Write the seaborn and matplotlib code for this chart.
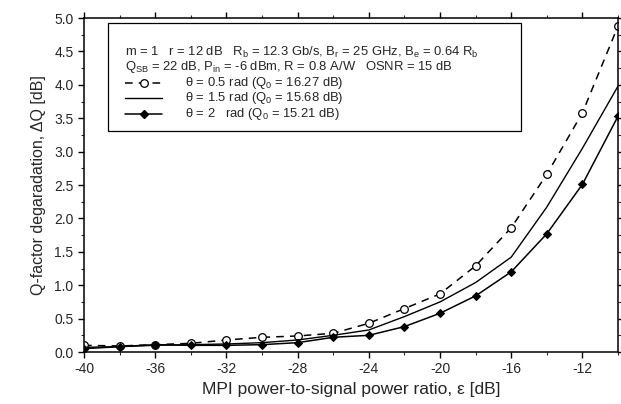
import numpy as np
import pandas as pd
import matplotlib
matplotlib.use("Agg")
import matplotlib.pyplot as plt
from matplotlib.patches import Rectangle
from matplotlib.ticker import MultipleLocator, FormatStrFormatter
import seaborn as sns

# MPI power-to-signal power ratio (dB)
eps_db = [-40, -38, -36, -34, -32, -30, -28, -26, -24, -22, -20, -18, -16, -14, -12, -10]

# Q-factor degradation (dB) for each phase value
dq_theta_05 = [0.10, 0.09, 0.11, 0.13, 0.18, 0.22, 0.24, 0.28, 0.43, 0.65, 0.87, 1.29, 1.86, 2.66, 3.58, 4.88]
dq_theta_15 = [0.07, 0.08, 0.10, 0.11, 0.12, 0.14, 0.18, 0.25, 0.33, 0.53, 0.75, 1.04, 1.42, 2.17, 3.05, 3.98]
dq_theta_20 = [0.05, 0.08, 0.11, 0.10, 0.10, 0.11, 0.14, 0.22, 0.25, 0.38, 0.58, 0.84, 1.20, 1.77, 2.51, 3.53]

series_labels = [
    r"$\theta$ = 0.5 rad (Q$_0$ = 16.27 dB)",
    r"$\theta$ = 1.5 rad (Q$_0$ = 15.68 dB)",
    r"$\theta$ = 2   rad (Q$_0$ = 15.21 dB)",
]
header_lines = [
    "m = 1   r = 12 dB   R$_b$ = 12.3 Gb/s, B$_r$ = 25 GHz, B$_e$ = 0.64 R$_b$",
    "Q$_{SB}$ = 22 dB, P$_{in}$ = -6 dBm, R = 0.8 A/W   OSNR = 15 dB",
]

sns.set_style("ticks")
plt.rcParams["font.family"] = ["Liberation Sans", "DejaVu Sans"]
plt.rcParams["mathtext.default"] = "regular"
plt.rcParams["axes.unicode_minus"] = False

df = pd.DataFrame({"eps": eps_db, "t05": dq_theta_05, "t15": dq_theta_15, "t20": dq_theta_20})

fig = plt.figure(figsize=(6.21, 4.04), dpi=100)
ax = fig.add_axes([0.1353, 0.1287, 0.8599, 0.8267])

dash = (0, (5, 4))
styles = [
    dict(color="black", linestyle=dash, linewidth=1.1, marker="o", markersize=5.5,
         markerfacecolor="white", markeredgecolor="black", markeredgewidth=0.9),
    dict(color="black", linewidth=1.0),
    dict(color="black", linewidth=1.1, marker="D", markersize=4.5,
         markerfacecolor="black", markeredgecolor="black"),
]
for col, st in zip(["t05", "t15", "t20"], styles):
    sns.lineplot(data=df, x="eps", y=col, ax=ax, **st)

ax.set_xlim(-40, -10)
ax.set_ylim(0, 5)
ax.set_xticks(np.arange(-40, -11, 4))
ax.xaxis.set_minor_locator(MultipleLocator(2))
ax.yaxis.set_major_locator(MultipleLocator(0.5))
ax.yaxis.set_minor_locator(MultipleLocator(0.25))
ax.yaxis.set_major_formatter(FormatStrFormatter("%.1f"))

ax.tick_params(axis="both", which="major", labelsize=10, length=4, width=1,
               direction="out", top=True, right=True, color="black")
ax.tick_params(axis="both", which="minor", length=2, width=0.8,
               direction="out", top=True, right=True)
for spine in ax.spines.values():
    spine.set_visible(True)
    spine.set_linewidth(1.1)
    spine.set_color("black")

ax.set_xlabel("MPI power-to-signal power ratio, \u03b5 [dB]", fontsize=12.5, labelpad=4)
ax.set_ylabel("Q-factor degaradation, \u0394Q [dB]", fontsize=11.5, labelpad=6)

# Parameter box with the curve key, placed in axes fractions
box_x0, box_x1, box_y0, box_y1 = 0.045, 0.818, 0.662, 0.985
ax.add_patch(Rectangle((box_x0, box_y0), box_x1 - box_x0, box_y1 - box_y0,
                       transform=ax.transAxes, facecolor="white", edgecolor="black",
                       linewidth=0.9, zorder=5))
row_y = [0.898, 0.852, 0.806, 0.760, 0.714]
text_x_head, key_x0, key_x1, text_x_key = 0.077, 0.077, 0.146, 0.189
fs = 9.4
for y, line in zip(row_y[:2], header_lines):
    ax.text(text_x_head, y, line, transform=ax.transAxes, fontsize=fs,
            va="center", ha="left", zorder=6)
for y, lab, st in zip(row_y[2:], series_labels, styles):
    ax.plot([key_x0, key_x1], [y, y], transform=ax.transAxes, clip_on=False, zorder=6,
            **{k: v for k, v in st.items() if not k.startswith("marker")})
    if "marker" in st:
        ax.plot([(key_x0 + key_x1) / 2], [y], transform=ax.transAxes, clip_on=False,
                zorder=7, linestyle="none",
                **{k: v for k, v in st.items() if k.startswith("marker")})
    ax.text(text_x_key, y, lab, transform=ax.transAxes, fontsize=fs,
            va="center", ha="left", zorder=6)

fig.savefig("out.png", dpi=100)
